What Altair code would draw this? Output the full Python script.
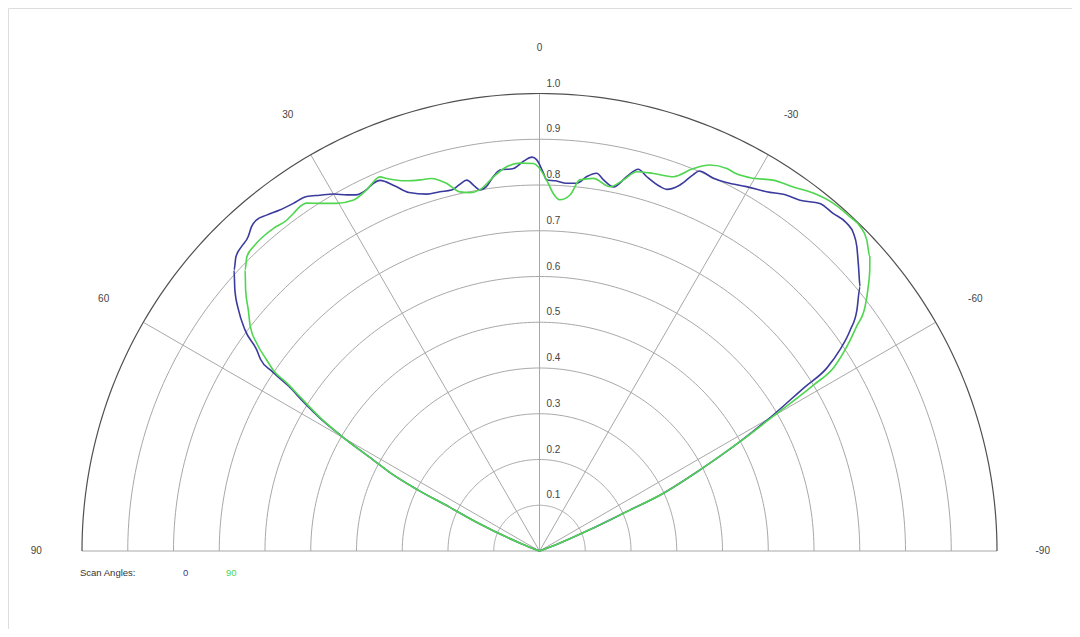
import math
import numpy as np
import pandas as pd
import altair as alt

# ---- data: scan angle (deg, + to the left) and normalized value ----
theta_0 = [90, 68, 65.5, 64, 63.3, 62.3, 61.3, 59.8, 58.8, 57.7, 56.7, 56.1, 55.5, 54.6,
           53.1, 51.3, 49.4, 47.4, 45.9, 44.4, 42.8, 41.6, 40.5, 39.1, 37.3, 35.3, 33.3,
           31.7, 30.0, 28.4, 27.3, 25.5, 24.3, 23.3, 21.6, 20.0, 17.5, 15.5, 13.7, 12.3,
           11.1, 10.1, 9.4, 8.3, 7.0, 5.9, 3.9, 2.4, 1.1, 0.4, -0.6, -1.1, -2.5, -4.2,
           -5.8, -7.2, -8.6, -9.8, -11.5, -13.1, -14.5, -16.0, -18.3, -19.4, -21.0, -22.2,
           -22.8, -25.0, -26.9, -29.6, -32.3, -34.8, -36.6, -38.9, -41.0, -43.2, -44.7,
           -46.2, -48.3, -50.5, -52.8, -54.6, -56.2, -57.5, -58.3, -59.8, -61.4, -63.2,
           -65.0, -65.7, -67.0, -69.0, -90]
value_0 = [0.0, 0.04, 0.15, 0.22, 0.30, 0.37, 0.414, 0.504, 0.561, 0.611, 0.655, 0.705, 0.74, 0.758,
           0.805, 0.843, 0.877, 0.907, 0.924, 0.931, 0.937, 0.948, 0.952, 0.946, 0.937, 0.931, 0.927,
           0.914, 0.901, 0.885, 0.876, 0.876, 0.882, 0.882, 0.858, 0.834, 0.818, 0.815, 0.812, 0.82,
           0.826, 0.81, 0.80, 0.805, 0.825, 0.837, 0.838, 0.852, 0.861, 0.855, 0.826, 0.811, 0.810, 0.806,
           0.808, 0.825, 0.835, 0.823, 0.812, 0.840, 0.862, 0.851, 0.839, 0.838, 0.857, 0.888,
           0.901, 0.899, 0.903, 0.916, 0.929, 0.947, 0.955, 0.976, 0.978, 0.982, 0.976,
           0.961, 0.934, 0.908, 0.871, 0.833, 0.790, 0.745, 0.68, 0.591, 0.499, 0.393,
           0.299, 0.209, 0.12, 0.04, 0.0]

theta_90 = [90, 68, 65.5, 64, 63.3, 62.3, 61.3, 59.8, 58.6, 57.4, 56.4, 55.8, 55.0, 53.7, 52.2,
            50.4, 48.4, 46.3, 44.85, 43.2, 41.3, 39.5, 37.4, 36.1, 34.8, 33.8, 32.3, 30.3, 27.9,
            25.6, 23.1, 22.3, 19.8, 17.8, 16.2, 14.2, 12.5, 11.0, 9.4, 7.0, 4.9, 2.9, 0.9, 0.2,
            -1.1, -2.2, -3.3, -4.9, -6.2, -8.2, -11.0, -12.7, -14.4, -16.8, -19.7, -21.9, -23.8,
            -26.1, -27.5, -29.8, -32.2, -34.9, -37.4, -40.2, -42.9, -44.7, -46.45, -48.3, -49.6,
            -51.2, -53.1, -54.7, -56.4, -58.0, -58.8, -59.9, -61.4, -63.2, -65.0, -65.7, -67.0,
            -69.0, -90]
value_90 = [0.0, 0.04, 0.15, 0.22, 0.30, 0.37, 0.414, 0.504, 0.565, 0.615, 0.662, 0.704, 0.728, 0.767, 0.800,
            0.826, 0.859, 0.890, 0.907, 0.913, 0.915, 0.914, 0.910, 0.913, 0.917, 0.915, 0.899, 0.880, 0.868,
            0.875, 0.889, 0.880, 0.860, 0.852, 0.848, 0.829, 0.804, 0.798, 0.800, 0.824, 0.843, 0.849, 0.847, 0.840,
            0.811, 0.782, 0.769, 0.781, 0.816, 0.823, 0.811, 0.831, 0.856, 0.862, 0.869, 0.901, 0.922,
            0.931, 0.930, 0.939, 0.958, 0.970, 0.985, 0.995, 0.997, 0.997, 0.987, 0.967, 0.948,
            0.922, 0.890, 0.849, 0.806, 0.76, 0.70, 0.60, 0.499, 0.393, 0.300, 0.21, 0.12,
            0.04, 0.0]

ring_values = [0.1, 0.2, 0.3, 0.4, 0.5, 0.6, 0.7, 0.8, 0.9, 1.0]
ring_labels = ["0.1", "0.2", "0.3", "0.4", "0.5", "0.6", "0.7", "0.8", "0.9", "1.0"]
spoke_angles = [60, 30, 0, -30, -60]
angle_labels = [90, 60, 30, 0, -30, -60, -90]
series_names = ["0", "90"]
series_colors = ["#3b3b9e", "#4fd64f"]
legend_title = "Scan Angles:"

FONT = "Liberation Sans"


def px(th, r):
    t = math.radians(th)
    return -r * math.sin(t), r * math.cos(t)


# ---- tables ----
rows = []
for name, ths, vs in [("0", theta_0, value_0), ("90", theta_90, value_90)]:
    for i, (th, v) in enumerate(zip(ths, vs)):
        x, y = px(th, v)
        rows.append({"series": name, "i": i, "x": x, "y": y})
curves = pd.DataFrame(rows)

ring_rows = []
for r in ring_values:
    for k, th in enumerate(np.arange(90, -90.5, -1.0)):
        x, y = px(th, r)
        ring_rows.append({"ring": r, "k": k, "x": x, "y": y, "outer": r == 1.0})
rings = pd.DataFrame(ring_rows)

spoke_rows = []
for a in spoke_angles:
    for k, r in enumerate([0.0, 1.0]):
        x, y = px(a, r)
        spoke_rows.append({"a": a, "k": k, "x": x, "y": y})
for k, r in enumerate([-1.0, 1.0]):
    spoke_rows.append({"a": 90, "k": k, "x": r, "y": 0.0})
spokes = pd.DataFrame(spoke_rows)

alab = pd.DataFrame([{"t": str(a), "x": px(a, 1.10)[0], "y": px(a, 1.10)[1]} for a in angle_labels])
rlab = pd.DataFrame([{"t": l, "x": 0.0, "y": r} for r, l in zip(ring_values, ring_labels)])

# ---- scales placing centre at page (539.5, 551), radius 457.5 px ----
W, H = 1064, 621
R = 457.5
cx, cy = 539.5 - 8, 551 - 8
xs = alt.Scale(domain=[-cx / R, (W - cx) / R], nice=False, zero=False)
ys = alt.Scale(domain=[(cy - H) / R, cy / R], nice=False, zero=False)
X = lambda: alt.X("x:Q", scale=xs, axis=None)
Y = lambda: alt.Y("y:Q", scale=ys, axis=None)

inner = alt.Chart(rings[~rings.outer]).mark_line(color="#a8a8a8", strokeWidth=1).encode(
    x=X(), y=Y(), detail="ring:N", order="k:Q")
outer = alt.Chart(rings[rings.outer]).mark_line(color="#505050", strokeWidth=1.2).encode(
    x=X(), y=Y(), detail="ring:N", order="k:Q")
spk = alt.Chart(spokes).mark_line(color="#a8a8a8", strokeWidth=1).encode(
    x=X(), y=Y(), detail="a:N", order="k:Q")

lines = alt.Chart(curves).mark_line(strokeWidth=1.6, interpolate="monotone").encode(
    x=X(), y=Y(), detail="series:N", order="i:Q",
    color=alt.Color("series:N", scale=alt.Scale(domain=series_names, range=series_colors), legend=None))

atext = alt.Chart(alab).mark_text(font=FONT, fontSize=10, color="#444444").encode(
    x=X(), y=Y(), text="t:N")
rtext = alt.Chart(rlab).mark_text(font=FONT, fontSize=10, color="#444444", align="left",
                                  baseline="bottom", dx=7, dy=-5).encode(x=X(), y=Y(), text="t:N")

leg_df = pd.DataFrame({"t": [legend_title] + series_names,
                       "series": ["title"] + series_names,
                       "px": [72, 175, 218]})
leg = alt.Chart(leg_df).mark_text(font=FONT, fontSize=9.5, align="left", baseline="middle").encode(
    x=alt.X("px:Q", scale=alt.Scale(domain=[0, W], nice=False, zero=False), axis=None),
    y=alt.value(565),
    text="t:N",
    color=alt.Color("series:N", scale=alt.Scale(domain=["title"] + series_names,
                                                range=["#333333"] + series_colors), legend=None))

chart = alt.layer(inner, spk, outer, lines, atext, rtext, leg).resolve_scale(
    color="independent", x="independent"
).properties(width=W, height=H, padding=0, autosize=alt.AutoSizeParams(type="none")
).configure_view(strokeWidth=0, stroke="transparent").configure(background="white")

chart.save("out.html", embed_options={"renderer": "svg", "actions": False})
